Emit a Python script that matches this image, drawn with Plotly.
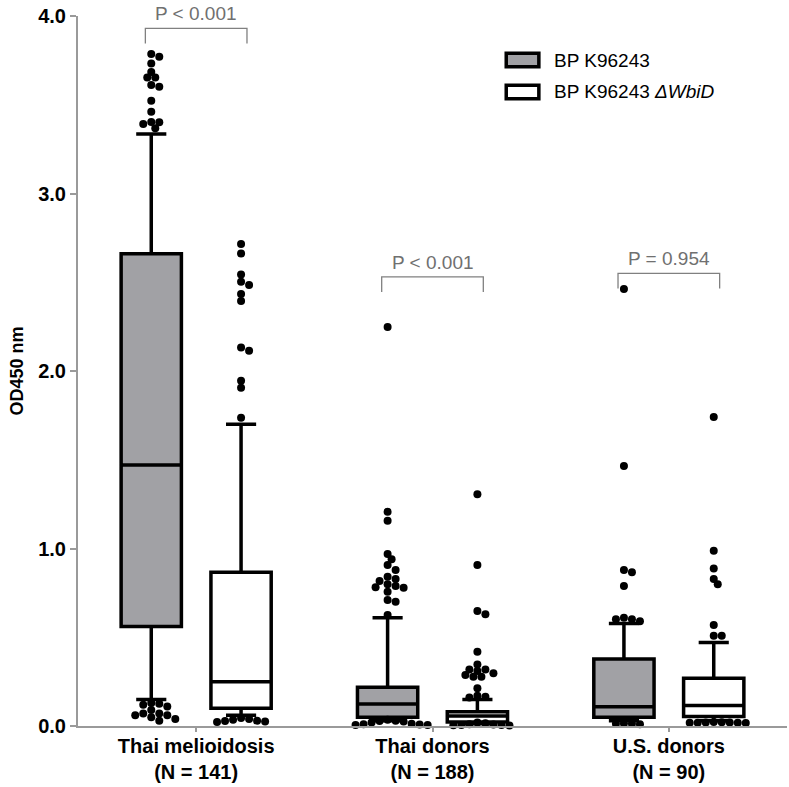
import plotly.graph_objects as go

# categories and summary stats
groups = ["Thai melioidosis", "Thai donors", "U.S. donors"]
group_n = [141, 188, 90]
series_names = ["BP K96243", "BP K96243 <i>ΔWbiD</i>"]

wt_q1 = [0.56, 0.05, 0.049]
wt_median = [1.47, 0.124, 0.109]
wt_q3 = [2.66, 0.218, 0.377]
wt_lower = [0.15, 0.03, 0.03]
wt_upper = [3.335, 0.61, 0.578]

mut_q1 = [0.10, 0.022, 0.053]
mut_median = [0.25, 0.056, 0.115]
mut_q3 = [0.866, 0.08, 0.269]
mut_lower = [0.06, 0.012, 0.03]
mut_upper = [1.70, 0.15, 0.47]

wt_outliers = [
    [3.786, 3.771, 3.733, 3.685, 3.653, 3.653, 3.602, 3.611, 3.523, 3.461, 3.401, 3.392,
     3.403, 3.367, 0.13, 0.125, 0.12, 0.11, 0.09, 0.07, 0.06, 0.05, 0.04, 0.03, 0.06, 0.07],
    [2.248, 1.207, 1.157, 0.969, 0.939, 0.907, 0.879, 0.841, 0.817, 0.828, 0.789, 0.779,
     0.781, 0.798, 0.757, 0.70, 0.71, 0.625, 0.035, 0.03, 0.028, 0.025, 0.02, 0.012,
     0.01, 0.008, 0.006, 0.005],
    [2.462, 1.465, 0.879, 0.866, 0.789, 0.61, 0.601, 0.601, 0.59, 0.014, 0.012, 0.012, 0.01],
]
mut_outliers = [
    [2.716, 2.662, 2.544, 2.503, 2.484, 2.434, 2.394, 2.133, 2.114, 1.945, 1.906, 1.737,
     0.045, 0.04, 0.035, 0.03, 0.028, 0.025, 0.022],
    [1.305, 0.907, 0.648, 0.629, 0.419, 0.347, 0.319, 0.31, 0.287, 0.278, 0.278, 0.297,
     0.319, 0.212, 0.171, 0.165, 0.16, 0.02, 0.015, 0.01, 0.008, 0.006, 0.005, 0.004, 0.003],
    [1.741, 0.988, 0.888, 0.828, 0.798, 0.569, 0.509, 0.509, 0.022, 0.021, 0.02, 0.02,
     0.019, 0.018, 0.018, 0.017],
]

p_labels = ["P < 0.001", "P < 0.001", "P = 0.954"]
p_heights = [3.93, 2.53, 2.55]

GRAY = "#a1a1a5"
FONT = "Arial, Liberation Sans, sans-serif"
OFFSET = 0.19
BOX_W = 0.255
PX_X = 236.0   # px per x unit
PX_Y = 177.5   # px per y unit
DOT = 8


def swarm(values, center):
    """simple beeswarm: spread points sideways so dots don't overlap too much"""
    placed = []
    xs = [0.0] * len(values)
    order = sorted(range(len(values)), key=lambda i: -values[i])
    for i in order:
        py = values[i] * PX_Y
        k = 0
        while True:
            hit = None
            for sign in ([1] if k == 0 else [1, -1]):
                px = sign * k * DOT * 0.5
                if all((px - qx) ** 2 + (py - qy) ** 2 >= (DOT * 0.8) ** 2 for qx, qy in placed):
                    hit = px
                    break
            if hit is not None:
                break
            k += 1
        placed.append((hit, py))
        xs[i] = center + hit / PX_X
    return xs


fig = go.Figure()
cats = list(range(len(groups)))

for name, fill, off, q1, med, q3, lo, hi in [
    (series_names[0], GRAY, -OFFSET, wt_q1, wt_median, wt_q3, wt_lower, wt_upper),
    (series_names[1], "white", OFFSET, mut_q1, mut_median, mut_q3, mut_lower, mut_upper),
]:
    fig.add_trace(go.Box(
        x=[c + off for c in cats], q1=q1, median=med, q3=q3,
        lowerfence=lo, upperfence=hi,
        width=BOX_W, whiskerwidth=0.5, boxpoints=False,
        fillcolor=fill, line=dict(color="black", width=3.5),
        name=name, showlegend=False, hoverinfo="skip",
    ))

for outs, off in [(wt_outliers, -OFFSET), (mut_outliers, OFFSET)]:
    for c, vals in zip(cats, outs):
        fig.add_trace(go.Scatter(
            x=swarm(vals, c + off), y=vals, mode="markers",
            marker=dict(color="black", size=DOT), showlegend=False,
            cliponaxis=False, hoverinfo="skip",
        ))

# significance brackets
for c, label, h in zip(cats, p_labels, p_heights):
    x0, x1 = c - 0.215, c + 0.215
    fig.add_shape(type="path", path=f"M {x0},{h - 0.085} L {x0},{h} L {x1},{h} L {x1},{h - 0.085}",
                  line=dict(color="#808080", width=1.3), layer="above")
    fig.add_annotation(x=c, y=h, text=label, showarrow=False, yanchor="bottom", yshift=2,
                       font=dict(family=FONT, size=19, color="#707070"))

# legend drawn by hand: wide rounded swatches like the original
for i, (name, fill) in enumerate(zip(series_names, [GRAY, "white"])):
    yc = 0.938 - i * 0.045
    fig.add_shape(type="rect", xref="paper", yref="paper",
                  x0=0.604, x1=0.650, y0=yc - 0.0095, y1=yc + 0.0095,
                  fillcolor=fill, line=dict(color="black", width=3.5))
    fig.add_annotation(xref="paper", yref="paper", x=0.668, y=yc, text=name,
                       showarrow=False, xanchor="left", yanchor="middle",
                       font=dict(family=FONT, size=19, color="black"))

ticktext = [f"<b>{g}<br>(N = {n})</b>" for g, n in zip(groups, group_n)]

fig.update_layout(
    width=789, height=787,
    margin=dict(l=78, r=2, t=16, b=61),
    paper_bgcolor="white", plot_bgcolor="white",
    font=dict(family=FONT, color="black"),
    showlegend=False,
    xaxis=dict(
        range=[-0.5, 2.5], tickvals=cats, ticktext=ticktext,
        showline=True, linecolor="#9a9a9a", linewidth=2,
        ticks="outside", tickcolor="#9a9a9a", ticklen=4, tickwidth=1.5,
        tickfont=dict(size=20, color="black"), ticklabelstandoff=-3,
        automargin=False,
        showgrid=False, zeroline=False,
    ),
    yaxis=dict(
        range=[0, 4], tickvals=[0, 1, 2, 3, 4], tickformat=".1f",
        showline=True, linecolor="#9a9a9a", linewidth=2,
        ticks="outside", tickcolor="#9a9a9a", ticklen=6, tickwidth=1.5,
        tickfont=dict(size=20, color="black", weight="bold"),
        ticklabeloverflow="allow", automargin=False,
        title=dict(text="<b>OD450 nm</b>", font=dict(size=18), standoff=10),
        showgrid=False, zeroline=False,
    ),
)

# the page body has a default 8px margin; drop it so the figure fills the window
fig.write_html("out.html", config={"displayModeBar": False},
               post_script="document.body.style.margin='0px';")
